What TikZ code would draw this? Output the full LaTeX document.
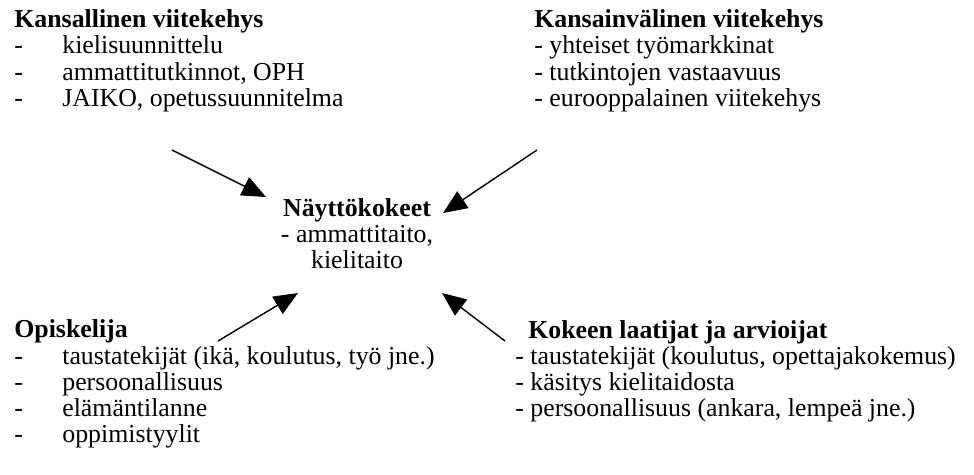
\documentclass[tikz,border=0pt]{standalone}
\usepackage{fontspec}
\setmainfont{Liberation Serif}
\usetikzlibrary{arrows.meta}
\tikzstyle{block} = [inner sep=0pt, align=left, anchor=base west, font=\fontsize{14.7}{14.8}\selectfont]
\tikzstyle{arrow} = [line width=0.8pt,-{Triangle[length=0.48cm,width=0.4cm]}]
\newcommand{\dashitem}[1]{\makebox[0.96cm][l]{-}#1}

\begin{document}
\begin{tikzpicture}[x=0.02cm,y=-0.02cm]
			\useasboundingbox (0,0) rectangle (974,474);
			% base = last line
			\node[block] (kansallinen) at (14,106) {\textbf{Kansallinen viitekehys}\\\dashitem{kielisuunnittelu}\\\dashitem{ammattitutkinnot, OPH}\\\dashitem{JAIKO, opetussuunnitelma}};
			\node[block] (kansainvalinen) at (534,106) {\textbf{Kansainvälinen viitekehys}\\- yhteiset työmarkkinat\\- tutkintojen vastaavuus\\- eurooppalainen viitekehys};
			\node[block, align=center, anchor=base] (nayttokokeet) at (357,268) {\textbf{Näyttökokeet}\\- ammattitaito,\\kielitaito};
			\node[block] (opiskelija) at (14,442) {\textbf{Opiskelija}\\\dashitem{taustatekijät (ikä, koulutus, työ jne.)}\\\dashitem{persoonallisuus}\\\dashitem{elämäntilanne}\\\dashitem{oppimistyylit}};
			\node[block] (kokeen) at (528,338) {\textbf{Kokeen laatijat ja arvioijat}};
			\node[block] (arvioijat) at (515,416) {- taustatekijät (koulutus, opettajakokemus)\\- käsitys kielitaidosta\\- persoonallisuus (ankara, lempeä jne.)};
			
			% arrow ends
			\coordinate (k1) at (172,150);
			\coordinate (k2) at (266,197);
			\coordinate (v1) at (537,150);
			\coordinate (v2) at (443,213);
			\coordinate (o1) at (218,341);
			\coordinate (o2) at (298,293);
			\coordinate (l1) at (505,341);
			\coordinate (l2) at (442,293);
			
			\draw [arrow] (k1) -- (k2);
			\draw [arrow] (v1) -- (v2);
			\draw [arrow] (o1) -- (o2);
			\draw [arrow] (l1) -- (l2);
			
		\end{tikzpicture}
\end{document}
